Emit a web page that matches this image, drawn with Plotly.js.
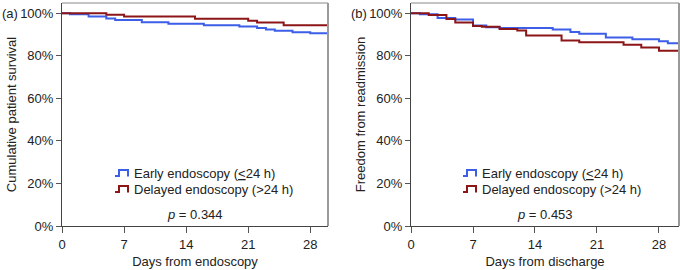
<!DOCTYPE html>
<html>
<head>
<meta charset="utf-8">
<script src="https://cdn.plot.ly/plotly-3.0.1.min.js"></script>
<style>html,body{margin:0;padding:0;background:#fff}#chart{width:680px;height:270px}</style>
</head>
<body>
<div id="chart"></div>
<script>
// Panel (a): cumulative patient survival
const aEarlyDays = [0, 0.9, 3.0, 5.0, 6.0, 9.0, 12.0, 16.0, 20.0, 22.0, 23.0, 24.0, 26.0, 28.0, 30.0];
const aEarlySurv = [100, 99.5, 98.5, 97.5, 96.8, 95.8, 95.0, 94.3, 93.8, 93.0, 92.4, 91.8, 91.1, 90.6, 90.6];
const aDelayDays = [0, 5, 7, 15, 21, 22, 25, 30];
const aDelaySurv = [100, 99.3, 98.4, 97.4, 96.5, 95.6, 94.4, 94.4];
// Panel (b): freedom from readmission
const bEarlyDays = [0, 1, 3, 5, 7, 8.5, 10, 16, 18, 19, 22, 25, 28, 29, 30.2];
const bEarlySurv = [100, 99.5, 97.8, 97.0, 94.2, 93.4, 93.0, 92.3, 91.2, 90.4, 88.6, 87.8, 86.8, 85.9, 85.9];
const bDelayDays = [0, 2, 4, 5, 7, 8, 10, 12, 13, 17, 19, 24, 26, 28, 30.2];
const bDelaySurv = [100, 99.2, 97.3, 95.6, 94.0, 93.6, 92.6, 91.9, 89.5, 87.2, 86.3, 85.2, 83.9, 82.4, 82.4];

const xTicks = [0, 7, 14, 21, 28];
const yTicks = [0, 20, 40, 60, 80, 100];
const yTickText = ['0%', '20%', '40%', '60%', '80%', '100%'];
const seriesNames = ['Early endoscopy (<u>&lt;</u>24 h)', 'Delayed endoscopy (>24 h)'];
const pValues = ['0.344', '0.453'];
const panelLabels = ['(a)', '(b)'];
const xTitles = ['Days from endoscopy', 'Days from discharge'];
const yTitles = ['Cumulative patient survival', 'Freedom from readmission'];

const BLUE = '#3d5ee6', RED = '#8c1518';
const FONT = {family: 'Liberation Sans, Arial, sans-serif', size: 13, color: '#222'};

function line(x, y, color, xa, ya, name) {
  return {x: x, y: y, type: 'scatter', mode: 'lines', line: {shape: 'hv', color: color, width: 2},
          xaxis: xa, yaxis: ya, name: name, showlegend: false, hoverinfo: 'skip'};
}

const data = [
  line(aEarlyDays, aEarlySurv, BLUE, 'x', 'y', 'Early'),
  line(aDelayDays, aDelaySurv, RED, 'x', 'y', 'Delayed'),
  line(bEarlyDays, bEarlySurv, BLUE, 'x2', 'y2', 'Early'),
  line(bDelayDays, bDelaySurv, RED, 'x2', 'y2', 'Delayed')
];

const W = 680, H = 270;
const mT = 3, mB = 44;
const PH = H - mT - mB;
const aL = 62, aR = 328, bL = 411, bR = 679;

function xaxis(dom, rng, title) {
  return {domain: [dom[0] / W, dom[1] / W], range: rng, tickvals: xTicks, ticks: 'outside', ticklen: 6,
    tickcolor: '#555', showline: true, linecolor: '#444', linewidth: 1, showgrid: false, zeroline: false,
    tickfont: FONT, title: {text: title, font: FONT, standoff: 6}, fixedrange: true};
}
function yaxis(anchor, title) {
  return {domain: [0, 1], range: [0, 104.8], tickvals: yTicks, ticktext: yTickText, ticks: 'outside', ticklen: 5,
    tickcolor: '#555', showline: true, linecolor: '#444', linewidth: 1, showgrid: false, zeroline: false,
    tickfont: FONT, anchor: anchor, title: {text: title, font: FONT, standoff: 0}, fixedrange: true};
}

const layout = {
  width: W, height: H,
  margin: {l: 0, r: 0, t: mT, b: mB, pad: 0},
  paper_bgcolor: '#fff', plot_bgcolor: '#fff',
  font: FONT,
  showlegend: false,
  xaxis: xaxis([aL, aR], [0, 30], xTitles[0]),
  yaxis: yaxis('x', yTitles[0]),
  xaxis2: xaxis([bL, bR], [0, 30.26], xTitles[1]),
  yaxis2: yaxis('x2', yTitles[1]),
  shapes: [],
  annotations: []
};
layout.xaxis.anchor = 'y';
layout.xaxis2.anchor = 'y2';

// frame lines (top and right) for both panels
[['x', 'y'], ['x2', 'y2']].forEach(function (ax) {
  layout.shapes.push({type: 'line', xref: ax[0] + ' domain', yref: ax[1] + ' domain', x0: 0, x1: 1, y0: 1, y1: 1,
    line: {color: '#888', width: 1}});
  layout.shapes.push({type: 'line', xref: ax[0] + ' domain', yref: ax[1] + ' domain', x0: 1, x1: 1, y0: 0, y1: 1,
    line: {color: '#999', width: 2}});
});

// legends (manual, step icons) and p-values
const panels = [{l: aL, r: aR, xr: 'x', yr: 'y'}, {l: bL, r: bR, xr: 'x2', yr: 'y2'}];
const legOffset = [53, 52];
const colors = [BLUE, RED];
const rowY = [173, 189];
const fx = function (px) { return px / W; };
const fy = function (py) { return 1 - (py - mT) / PH; };
panels.forEach(function (p, i) {
  const ix = p.l + legOffset[i];
  for (let k = 0; k < 2; k++) {
    const cy = rowY[k];
    layout.shapes.push({type: 'path', xref: 'paper', yref: 'paper',
      path: 'M' + fx(ix) + ',' + fy(cy + 3) + ' L' + fx(ix + 4) + ',' + fy(cy + 3) + ' L' + fx(ix + 4) + ',' + fy(cy - 3) +
            ' L' + fx(ix + 13) + ',' + fy(cy - 3) + ' L' + fx(ix + 13) + ',' + fy(cy + 3.5),
      line: {color: colors[k], width: 2}});
    layout.annotations.push({xref: 'paper', yref: 'paper', x: fx(ix + 17), y: fy(cy), xanchor: 'left', yanchor: 'middle',
      text: seriesNames[k], showarrow: false, font: FONT});
  }
  layout.annotations.push({xref: p.xr + ' domain', yref: 'paper', x: 0.5, y: fy(214), xanchor: 'center', yanchor: 'middle',
    text: '<i>p</i> = ' + pValues[i], showarrow: false, font: FONT});
  layout.annotations.push({xref: 'paper', yref: p.yr, x: fx(p.l - 62), y: 100, xanchor: 'left', yanchor: 'middle',
    text: panelLabels[i], showarrow: false, font: FONT});
});

Plotly.newPlot('chart', data, layout, {staticPlot: true, displayModeBar: false});
</script>
</body>
</html>
